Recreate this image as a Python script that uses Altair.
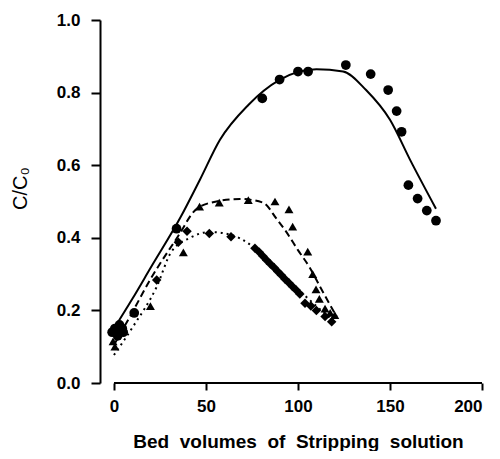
import altair as alt
import pandas as pd

# Scatter data
circ_x = [-1, 0.5, 2, 3, 4.5, 5, 11, 34, 80.6, 90, 100, 105.5, 126, 139.5, 149, 153.6, 156.3, 160, 165, 170, 175]
circ_y = [0.14, 0.15, 0.13, 0.16, 0.15, 0.14, 0.193, 0.425, 0.784, 0.836, 0.858, 0.858, 0.876, 0.851, 0.807, 0.749, 0.692, 0.545, 0.508, 0.475, 0.447]

tri_x = [-0.5, 0.5, 19.8, 37.7, 46.5, 57.2, 73, 87.5, 95.1, 97.1, 105.3, 108, 109.8, 111.6, 114.7, 117.5, 120]
tri_y = [0.115, 0.10, 0.212, 0.36, 0.486, 0.497, 0.504, 0.50, 0.478, 0.431, 0.362, 0.30, 0.258, 0.232, 0.205, 0.193, 0.187]

dia_x = [1.5, 23.2, 35, 39.7, 51.8, 63.6, 76.6, 79, 81, 83, 85, 87, 89, 91, 93, 95, 97, 99, 101, 103.8, 107, 110, 114.7, 118.3]
dia_y = [0.145, 0.284, 0.388, 0.418, 0.412, 0.403, 0.371, 0.36, 0.349, 0.338, 0.328, 0.318, 0.307, 0.297, 0.286, 0.276, 0.266, 0.256, 0.245, 0.22, 0.212, 0.2, 0.183, 0.169]

# Fitted curves
solid_x = [0, 10, 20, 36, 46.7, 57.6, 73, 90, 110, 124.5, 137, 150, 161, 175]
solid_y = [0.15, 0.232, 0.318, 0.455, 0.56, 0.67, 0.766, 0.835, 0.864, 0.858, 0.807, 0.725, 0.614, 0.48]

dash_x = [0, 10, 19.6, 35.9, 43, 52, 68.5, 81, 88.4, 93, 100, 106.5, 112, 121]
dash_y = [0.105, 0.195, 0.284, 0.413, 0.47, 0.496, 0.507, 0.497, 0.452, 0.421, 0.366, 0.317, 0.265, 0.183]

dot_x = [0, 10.3, 23.2, 31, 41.3, 52, 63.6, 75.5, 86, 97, 110, 119]
dot_y = [0.077, 0.155, 0.265, 0.36, 0.40, 0.416, 0.408, 0.375, 0.32, 0.272, 0.212, 0.172]

x_ticks = [0, 50, 100, 150, 200]
y_ticks = [0.0, 0.2, 0.4, 0.6, 0.8, 1.0]

x_title_words = ["Bed", "volumes", "of", "Stripping", "solution"]
y_title = "C/C₀"

FONT = "Liberation Sans"
W, H = 382, 363

xs = alt.Scale(domain=[-7.6, 200], nice=False, zero=False)
ys = alt.Scale(domain=[0, 1], nice=False, zero=False)

xaxis = alt.Axis(values=x_ticks, format="d", domain=False, grid=False,
                 tickSize=7, tickWidth=2, tickColor="black",
                 labelFont=FONT, labelFontSize=17, labelFontWeight="bold", labelColor="black",
                 labelPadding=8,
                 title=" \u00a0".join(x_title_words),
                 titleFont=FONT, titleFontSize=19, titleFontWeight="bold", titleColor="black",
                 titleX=198, titleY=64, titleAnchor="middle", titleBaseline="alphabetic")
yaxis = alt.Axis(values=y_ticks, format=".1f", domain=True, domainColor="black", domainWidth=2,
                 grid=False, tickSize=9, tickWidth=2, tickColor="black",
                 labelFont=FONT, labelFontSize=17, labelFontWeight="bold", labelColor="black",
                 labelPadding=11,
                 title=y_title, titleFont=FONT, titleFontSize=20, titleFontWeight="normal",
                 titleColor="black", titleAngle=-90, titleX=-80, titleY=168,
                 titleAlign="center", titleBaseline="middle")

def pts(xv, yv):
    return pd.DataFrame({"x": xv, "y": yv})

base_x = alt.X("x:Q", scale=xs, axis=xaxis)
base_y = alt.Y("y:Q", scale=ys, axis=yaxis)

solid = alt.Chart(pts(solid_x, solid_y)).mark_line(
    color="black", strokeWidth=2, interpolate="monotone").encode(x=base_x, y=base_y)
dashed = alt.Chart(pts(dash_x, dash_y)).mark_line(
    color="black", strokeWidth=2, strokeDash=[7, 4], interpolate="monotone").encode(
    x=alt.X("x:Q", scale=xs), y=alt.Y("y:Q", scale=ys))
dotted = alt.Chart(pts(dot_x, dot_y)).mark_line(
    color="black", strokeWidth=2, strokeDash=[2, 4], interpolate="monotone").encode(
    x=alt.X("x:Q", scale=xs), y=alt.Y("y:Q", scale=ys))

circles = alt.Chart(pts(circ_x, circ_y)).mark_point(
    shape="circle", filled=True, color="black", opacity=1, size=95).encode(
    x=alt.X("x:Q", scale=xs), y=alt.Y("y:Q", scale=ys))
tris = alt.Chart(pts(tri_x, tri_y)).mark_point(
    shape="triangle-up", filled=True, color="black", opacity=1, size=80).encode(
    x=alt.X("x:Q", scale=xs), y=alt.Y("y:Q", scale=ys))
dias = alt.Chart(pts(dia_x, dia_y)).mark_point(
    shape="diamond", filled=True, color="black", opacity=1, size=90).encode(
    x=alt.X("x:Q", scale=xs), y=alt.Y("y:Q", scale=ys))

axis_line = alt.Chart(pd.DataFrame({"x": [x_ticks[0]], "x2": [x_ticks[-1]], "y": [0]})).mark_rule(
    color="black", strokeWidth=2).encode(
    x=alt.X("x:Q", scale=xs), x2="x2:Q", y=alt.Y("y:Q", scale=ys))

chart = alt.layer(solid, dashed, dotted, circles, tris, dias, axis_line).properties(
    width=W, height=H,
    autosize=alt.AutoSizeParams(type="none"),
    padding={"left": 92, "top": 12, "right": 10, "bottom": 68},
    background="white",
).configure_view(stroke=None)

chart.save("out.html", embed_options={"renderer": "svg", "actions": False})
